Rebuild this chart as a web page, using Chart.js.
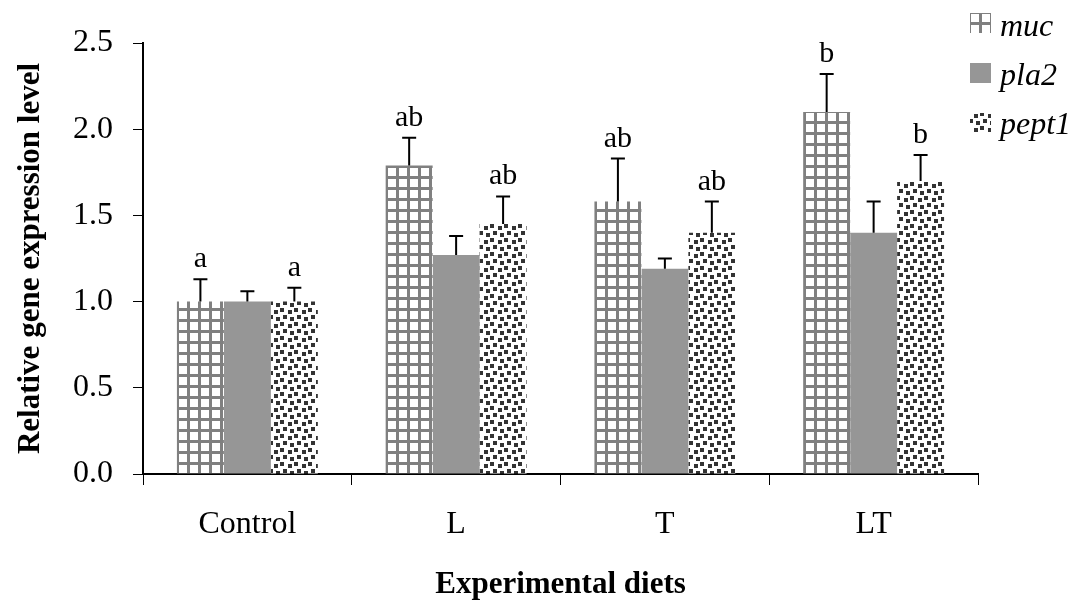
<!DOCTYPE html>
<html>
<head>
<meta charset="utf-8">
<script src="https://cdn.jsdelivr.net/npm/chart.js@4.4.0/dist/chart.umd.min.js"></script>
<style>
  body { margin: 0; background: #fff; }
  #wrap { width: 1083px; height: 608px; }
</style>
</head>
<body>
<div id="wrap"><canvas id="myChart" width="1083" height="608"></canvas></div>
<script>
const diets = ['Control', 'L', 'T', 'LT'];
const genes = ['muc', 'pla2', 'pept1'];

const mucValues = [1.00, 1.79, 1.58, 2.10];
const pla2Values = [1.00, 1.27, 1.19, 1.40];
const pept1Values = [1.00, 1.45, 1.40, 1.70];

const mucError = [0.13, 0.16, 0.25, 0.22];
const pla2Error = [0.06, 0.11, 0.06, 0.18];
const pept1Error = [0.08, 0.16, 0.18, 0.15];

const mucLetters = ['a', 'ab', 'ab', 'b'];
const pla2Letters = ['', '', '', ''];
const pept1Letters = ['a', 'ab', 'ab', 'b'];

const yTicks = [0, 0.5, 1.0, 1.5, 2.0, 2.5];

const serif = '"Liberation Serif", "Times New Roman", serif';

function gridPattern() {
    const c = document.createElement('canvas');
    c.width = 11; c.height = 11;
    const g = c.getContext('2d');
    g.fillStyle = '#fff';
    g.fillRect(0, 0, 11, 11);
    g.fillStyle = '#808080';
    g.fillRect(0, 0, 3, 11);
    g.fillRect(0, 0, 11, 3);
    return g.createPattern(c, 'repeat');
}

function dotPattern() {
    const c = document.createElement('canvas');
    c.width = 14; c.height = 14;
    const g = c.getContext('2d');
    g.fillStyle = '#fff';
    g.fillRect(0, 0, 14, 14);
    g.fillStyle = '#333';
    g.fillRect(0, 0, 4, 4);
    g.fillRect(8, 2, 4, 4);
    g.fillRect(3, 7, 4, 4);
    g.fillRect(10, 9, 4, 4);
    return g.createPattern(c, 'repeat');
}

const fills = [gridPattern(), '#969696', dotPattern()];
const errors = [mucError, pla2Error, pept1Error];
const letters = [mucLetters, pla2Letters, pept1Letters];

// error bars, letters and legend
const extras = {
    id: 'extras',
    afterDatasetsDraw(chart) {
        const ctx = chart.ctx;
        const yScale = chart.scales.y;
        ctx.save();
        chart.data.datasets.forEach((ds, i) => {
            const meta = chart.getDatasetMeta(i);
            meta.data.forEach((bar, j) => {
                const top = yScale.getPixelForValue(ds.data[j] + errors[i][j]);
                ctx.strokeStyle = '#000';
                ctx.lineWidth = 2;
                ctx.beginPath();
                ctx.moveTo(bar.x, bar.y);
                ctx.lineTo(bar.x, top);
                ctx.moveTo(bar.x - 7, top);
                ctx.lineTo(bar.x + 7, top);
                ctx.stroke();
                if (letters[i][j]) {
                    ctx.fillStyle = '#000';
                    ctx.font = '30px ' + serif;
                    ctx.textAlign = 'center';
                    ctx.textBaseline = 'alphabetic';
                    ctx.fillText(letters[i][j], bar.x, top - 12);
                }
            });
        });
        // legend
        const boxY = [13, 63, 113];
        const textY = [36, 85, 134];
        genes.forEach((name, i) => {
            ctx.fillStyle = fills[i];
            ctx.fillRect(970, boxY[i], 21, 20);
            ctx.fillStyle = '#000';
            ctx.font = 'italic 32px ' + serif;
            ctx.textAlign = 'left';
            ctx.fillText(name, 1000, textY[i]);
        });
        ctx.restore();
    }
};

new Chart(document.getElementById('myChart').getContext('2d'), {
    type: 'bar',
    data: {
        labels: diets,
        datasets: [
            { label: 'muc', data: mucValues, backgroundColor: fills[0] },
            { label: 'pla2', data: pla2Values, backgroundColor: fills[1] },
            { label: 'pept1', data: pept1Values, backgroundColor: fills[2] }
        ]
    },
    options: {
        responsive: false,
        animation: false,
        layout: { padding: { top: 43, right: 105, left: 0, bottom: 0 } },
        datasets: { bar: { categoryPercentage: 0.675, barPercentage: 1.0 } },
        plugins: { legend: { display: false }, tooltip: { enabled: false } },
        scales: {
            x: {
                afterFit: (axis) => { axis.height = 134; },
                grid: { display: true, drawOnChartArea: false, drawTicks: true, tickLength: 11, color: '#000', offset: true },
                border: { color: '#000', width: 2 },
                ticks: { color: '#000', font: { family: serif, size: 32 }, padding: 20 },
                title: { display: true, text: 'Experimental diets', color: '#000', font: { family: serif, size: 31, weight: 'bold' }, padding: { top: 4, bottom: 4 } }
            },
            y: {
                min: 0,
                max: 2.5,
                afterFit: (axis) => { axis.width = 143; },
                afterBuildTicks: (axis) => { axis.ticks = yTicks.map(v => ({ value: v })); },
                grid: { display: true, drawOnChartArea: false, drawTicks: true, tickLength: 10, color: '#000' },
                border: { color: '#000', width: 2 },
                ticks: { color: '#000', font: { family: serif, size: 32 }, padding: 20, callback: v => v.toFixed(1) },
                title: { display: true, text: 'Relative gene expression level', color: '#000', font: { family: serif, size: 31, weight: 'bold' }, padding: { top: 12, bottom: 4 } }
            }
        }
    },
    plugins: [extras]
});
</script>
</body>
</html>
